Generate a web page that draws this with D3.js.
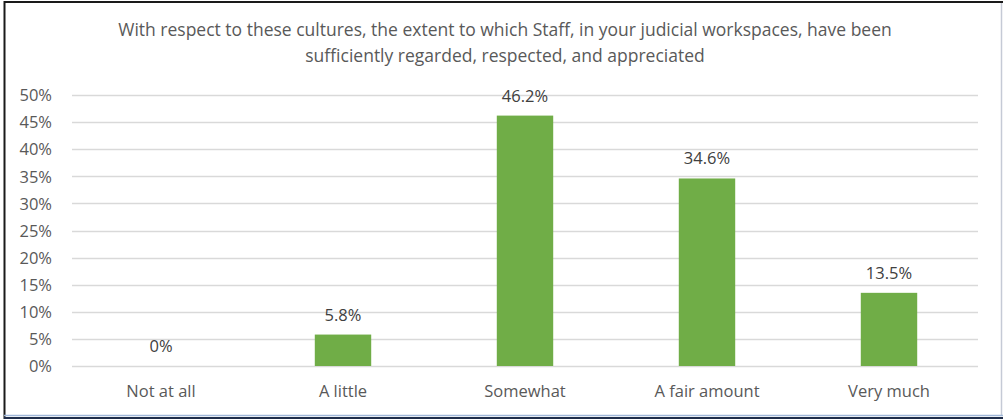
<!DOCTYPE html>
<html>
<head>
<meta charset="utf-8">
<script src="https://cdn.jsdelivr.net/npm/d3@7/dist/d3.min.js"></script>
<style>
  html, body { margin: 0; padding: 0; background: #fff; }
  svg { display: block; }
  text { font-family: "Open Sans", Lato, sans-serif; fill: #595959; }
</style>
</head>
<body>
<svg id="chart" width="1003" height="419"></svg>
<script>
const categories = ["Not at all", "A little", "Somewhat", "A fair amount", "Very much"];
const values = [0, 5.8, 46.2, 34.6, 13.5];
const valueLabels = ["0%", "5.8%", "46.2%", "34.6%", "13.5%"];
const yTicks = [0, 5, 10, 15, 20, 25, 30, 35, 40, 45, 50];
const titleLines = [
  "With respect to these cultures, the extent to which Staff, in your judicial workspaces, have been",
  "sufficiently regarded, respected, and appreciated"
];

const W = 1003, H = 419;
const FONT = "'Open Sans', Lato, sans-serif";
const svg = d3.select("#chart");

// outer frame
svg.append("rect").attr("x", 0).attr("y", 0).attr("width", W).attr("height", H).attr("fill", "#fff");
svg.append("line").attr("x1", 4).attr("x2", W).attr("y1", 2).attr("y2", 2).attr("stroke", "#1a1a1a").attr("stroke-width", 2);
svg.append("line").attr("x1", 4.5).attr("x2", 4.5).attr("y1", 1).attr("y2", H).attr("stroke", "#1a1a1a").attr("stroke-width", 2);
svg.append("line").attr("x1", 1001.5).attr("x2", 1001.5).attr("y1", 3).attr("y2", 416).attr("stroke", "#c5cad6").attr("stroke-width", 1.5);
svg.append("line").attr("x1", 4).attr("x2", W).attr("y1", 415.5).attr("y2", 415.5).attr("stroke", "#9fb6d8").attr("stroke-width", 1.5);
svg.append("line").attr("x1", 4).attr("x2", W).attr("y1", 418).attr("y2", 418).attr("stroke", "#1f2d4a").attr("stroke-width", 2);

// title
svg.append("g").selectAll("text").data(titleLines).join("text")
  .attr("x", 505).attr("y", (d, i) => 36 + i * 26)
  .attr("text-anchor", "middle")
  .style("font-size", "17.5px")
  .text(d => d);

const x = d3.scaleBand().domain(categories).range([70, 980]).paddingInner(0.69).paddingOuter(0.345);
const y = d3.scaleLinear().domain([0, 50]).range([366, 95]);

// gridlines
svg.append("g").selectAll("line").data(yTicks).join("line")
  .attr("x1", 72).attr("x2", 978)
  .attr("y1", d => Math.round(y(d)) + 0.5).attr("y2", d => Math.round(y(d)) + 0.5)
  .attr("stroke", "#d9d9d9").attr("stroke-width", 1.5);

// y axis labels
const yAxis = d3.axisLeft(y).tickValues(yTicks).tickFormat(d => d + "%").tickSize(0).tickPadding(0);
const gy = svg.append("g").attr("transform", "translate(52,0)").call(yAxis);
gy.select(".domain").remove();
gy.selectAll("text").style("font-size", "16.5px").style("font-family", FONT).attr("fill", "#595959").attr("dy", "0.35em");

// bars
svg.append("g").selectAll("rect").data(values).join("rect")
  .attr("x", (d, i) => x(categories[i]))
  .attr("width", x.bandwidth())
  .attr("y", d => y(d))
  .attr("height", d => y(0) - y(d))
  .attr("fill", "#70ad47");

// value labels
svg.append("g").selectAll("text").data(values).join("text")
  .attr("x", (d, i) => x(categories[i]) + x.bandwidth() / 2)
  .attr("y", d => y(d) - 14)
  .attr("text-anchor", "middle")
  .style("font-size", "16.5px")
  .style("fill", "#404040")
  .text((d, i) => valueLabels[i]);

// category axis labels
const xAxis = d3.axisBottom(x).tickSize(0).tickPadding(0);
const gx = svg.append("g").attr("transform", "translate(0,391)").call(xAxis);
gx.select(".domain").remove();
gx.selectAll("text").style("font-size", "16.5px").style("font-family", FONT).attr("fill", "#595959").attr("dy", "0.35em");
</script>
</body>
</html>
